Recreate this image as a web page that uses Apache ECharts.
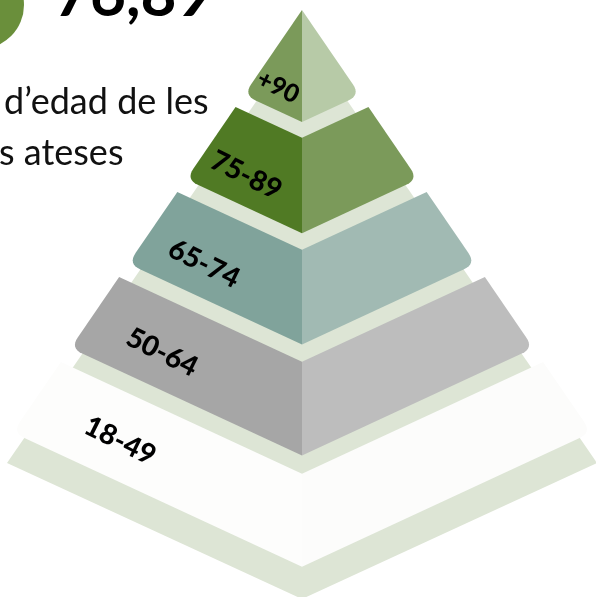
<!DOCTYPE html>
<html>
<head>
<meta charset="utf-8">
<title>Piràmide d'edats</title>
<script src="https://cdn.jsdelivr.net/npm/echarts@6/dist/echarts.min.js"></script>
<style>html,body{margin:0;padding:0;background:#fff;overflow:hidden}</style>
</head>
<body>
<div id="main" style="width:596px;height:597px;"></div>
<script type="text/javascript">
// age bands, from the tip of the pyramid down to the base
var ageGroups = ['+90', '75-89', '65-74', '50-64', '18-49'];
var headline = '76,89';
var captionLines = ['d\u2019edad de les', 's ateses'];

// face colours per band (left face / right face)
var leftColors = ['#7b9a5a', '#507a24', '#80a39b', '#a6a6a6', '#fdfdfc'];
var rightColors = ['#b7caa7', '#7b9a5a', '#a1bab3', '#bdbdbd', '#fcfcfb'];
var gapColor = '#dde5d5';

// isometric geometry (axis units = px)
var EDGE = 1.46, SLOPE = 0.464, RADIUS = 13;

function layerGeom(k) {
    var topY = k === 0 ? 10 : 22 + 85 * k;
    var topD = k === 0 ? 0 : (topY - 10) / EDGE;
    var botY = 122 + 111.2 * k;
    var sideD = (botY - topY + EDGE * topD) / (EDGE + SLOPE);
    return {
        topY: topY, topD: topD, botY: botY,
        sideD: sideD, sideY: botY - SLOPE * sideD,
        topC: topY + SLOPE * topD
    };
}

// polygon with some corners rounded (quadratic curve through the corner)
function roundPoly(pts, rounded, r) {
    var out = [];
    var n = pts.length;
    for (var i = 0; i < n; i++) {
        var p = pts[i];
        if (rounded.indexOf(i) < 0) { out.push(p); continue; }
        var a = pts[(i - 1 + n) % n], b = pts[(i + 1) % n];
        var la = Math.hypot(a[0] - p[0], a[1] - p[1]);
        var lb = Math.hypot(b[0] - p[0], b[1] - p[1]);
        var p1 = [p[0] + (a[0] - p[0]) * r / la, p[1] + (a[1] - p[1]) * r / la];
        var p2 = [p[0] + (b[0] - p[0]) * r / lb, p[1] + (b[1] - p[1]) * r / lb];
        for (var t = 0; t <= 1.0001; t += 0.125) {
            var u = 1 - t;
            out.push([
                u * u * p1[0] + 2 * u * t * p[0] + t * t * p2[0],
                u * u * p1[1] + 2 * u * t * p[1] + t * t * p2[1]
            ]);
        }
    }
    return out;
}

function renderLayer(params, api) {
    var k = api.value(0);
    var g = layerGeom(k);
    var c = function (x, y) { return api.coord([x, y]); };
    var left, right;
    if (g.topD === 0) {
        left = [c(0, g.topY), c(0, g.botY), c(-g.sideD, g.sideY)];
        right = [c(0, g.topY), c(g.sideD, g.sideY), c(0, g.botY)];
        left = roundPoly(left, [2], RADIUS);
        right = roundPoly(right, [1], RADIUS);
    } else {
        left = roundPoly([c(-g.topD, g.topY), c(0, g.topC), c(0, g.botY), c(-g.sideD, g.sideY)], [3], RADIUS);
        right = roundPoly([c(g.topD, g.topY), c(g.sideD, g.sideY), c(0, g.botY), c(0, g.topC)], [1], RADIUS);
    }
    var lp = c(k === 0 ? -24 : -(14 + 42 * k), 87 + 88.5 * k);
    return {
        type: 'group',
        children: [
            { type: 'polygon', shape: { points: left }, style: { fill: leftColors[k] } },
            { type: 'polygon', shape: { points: right }, style: { fill: rightColors[k] } },
            {
                type: 'text', x: lp[0], y: lp[1], rotation: -0.46,
                style: {
                    text: ageGroups[k], fill: '#000',
                    fontFamily: 'Lato', fontWeight: 900, fontSize: k === 0 ? 25 : 28,
                    align: 'center', verticalAlign: 'middle'
                }
            }
        ]
    };
}

function renderBack(params, api) {
    var pts = [api.coord([0, 35]), api.coord([295, 463]), api.coord([0, 599]), api.coord([-295, 463])];
    return { type: 'polygon', shape: { points: pts }, style: { fill: gapColor } };
}

var myChart = echarts.init(document.getElementById('main'));
var option = {
    animation: false,
    grid: { left: 0, right: 0, top: 0, bottom: 0 },
    xAxis: { type: 'value', min: -302, max: 294, show: false },
    yAxis: { type: 'value', min: 0, max: 597, inverse: true, show: false },
    graphic: [
        { type: 'circle', shape: { cx: -20, cy: 5, r: 44 }, style: { fill: '#6a8f3b' } },
        {
            type: 'text', x: 54, y: 27,
            style: { text: headline, fill: '#000', font: 'bold 62px Lato', textVerticalAlign: 'bottom' }
        },
        {
            type: 'text', x: 4, y: 102,
            style: { text: captionLines[0], fill: '#111', font: '36px Lato', textVerticalAlign: 'middle' }
        },
        {
            type: 'text', x: -1, y: 153,
            style: { text: captionLines[1], fill: '#111', font: '36px Lato', textVerticalAlign: 'middle' }
        }
    ],
    series: [
        {
            type: 'custom', z: 1, silent: true,
            renderItem: renderBack,
            data: [[0]]
        },
        {
            type: 'custom', z: 2, silent: true,
            renderItem: renderLayer,
            data: ageGroups.map(function (g, i) { return [i, g]; })
        }
    ]
};
myChart.setOption(option);
</script>
</body>
</html>
